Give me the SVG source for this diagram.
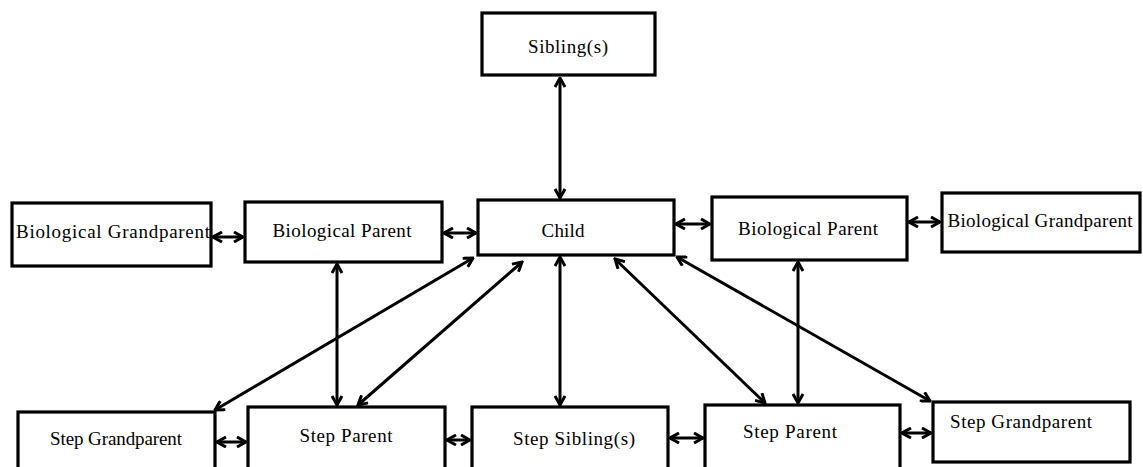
<svg xmlns="http://www.w3.org/2000/svg" width="1143" height="467" viewBox="0 0 1143 467">
<defs>
<style>
.box{fill:#fff;stroke:#000;stroke-width:3.2}
.lbl{font-family:"Liberation Serif","Times New Roman",serif;font-size:19px;fill:#000;text-anchor:middle}
.c{stroke:#000;stroke-width:3;fill:none;marker-start:url(#ah);marker-end:url(#ah)}
</style>
<marker id="ah" viewBox="0 0 12 12" refX="10.5" refY="6" markerWidth="12" markerHeight="12" markerUnits="userSpaceOnUse" orient="auto-start-reverse">
<path d="M1.5,1 L10.5,6 L1.5,11" fill="none" stroke="#000" stroke-width="3" stroke-linejoin="miter"/>
</marker>
</defs>
<rect width="1143" height="467" fill="#fff"/>
<g id="connectors">
<line class="c" x1="560" y1="78" x2="560" y2="198"/>
<line class="c" x1="213" y1="237" x2="243" y2="237"/>
<line class="c" x1="444" y1="233" x2="476" y2="233"/>
<line class="c" x1="676" y1="224" x2="710" y2="224"/>
<line class="c" x1="909" y1="222" x2="940" y2="222"/>
<line class="c" x1="337" y1="264" x2="337" y2="405"/>
<line class="c" x1="473" y1="258" x2="215" y2="410"/>
<line class="c" x1="522" y1="262" x2="358" y2="405"/>
<line class="c" x1="560" y1="257" x2="560" y2="405"/>
<line class="c" x1="615" y1="259" x2="765" y2="403"/>
<line class="c" x1="677" y1="257" x2="930" y2="401"/>
<line class="c" x1="798" y1="262" x2="798" y2="403"/>
<line class="c" x1="217" y1="442" x2="246" y2="442"/>
<line class="c" x1="447" y1="440" x2="470" y2="440"/>
<line class="c" x1="670" y1="438" x2="703" y2="438"/>
<line class="c" x1="902" y1="433" x2="931" y2="433"/>
</g>
<g id="siblings"><rect class="box" x="482" y="13" width="173" height="62"/><text class="lbl" x="568" y="53" textLength="80" lengthAdjust="spacing">Sibling(s)</text></g>
<g id="bio-grandparent-left"><rect class="box" x="12" y="203" width="199" height="63"/><text class="lbl" x="113" y="238" textLength="194" lengthAdjust="spacing">Biological Grandparent</text></g>
<g id="bio-parent-left"><rect class="box" x="245" y="202" width="197" height="60"/><text class="lbl" x="342" y="237" textLength="139" lengthAdjust="spacing">Biological Parent</text></g>
<g id="child"><rect class="box" x="478" y="200" width="196" height="55"/><text class="lbl" x="563" y="237" textLength="43" lengthAdjust="spacing">Child</text></g>
<g id="bio-parent-right"><rect class="box" x="712" y="197" width="195" height="63"/><text class="lbl" x="808" y="235" textLength="140" lengthAdjust="spacing">Biological Parent</text></g>
<g id="bio-grandparent-right"><rect class="box" x="942" y="193" width="198" height="59"/><text class="lbl" x="1040" y="227" textLength="185" lengthAdjust="spacing">Biological Grandparent</text></g>
<g id="step-grandparent-left"><rect class="box" x="18" y="412" width="197" height="58"/><text class="lbl" x="116" y="445" textLength="132" lengthAdjust="spacing">Step Grandparent</text></g>
<g id="step-parent-left"><rect class="box" x="248" y="407" width="197" height="63"/><text class="lbl" x="346" y="442" textLength="93" lengthAdjust="spacing">Step Parent</text></g>
<g id="step-siblings"><rect class="box" x="472" y="407" width="196" height="63"/><text class="lbl" x="574" y="445" textLength="122" lengthAdjust="spacing">Step Sibling(s)</text></g>
<g id="step-parent-right"><rect class="box" x="705" y="405" width="195" height="65"/><text class="lbl" x="790" y="438" textLength="94" lengthAdjust="spacing">Step Parent</text></g>
<g id="step-grandparent-right"><rect class="box" x="933" y="402" width="197" height="60"/><text class="lbl" x="1021" y="428" textLength="142" lengthAdjust="spacing">Step Grandparent</text></g>
</svg>
